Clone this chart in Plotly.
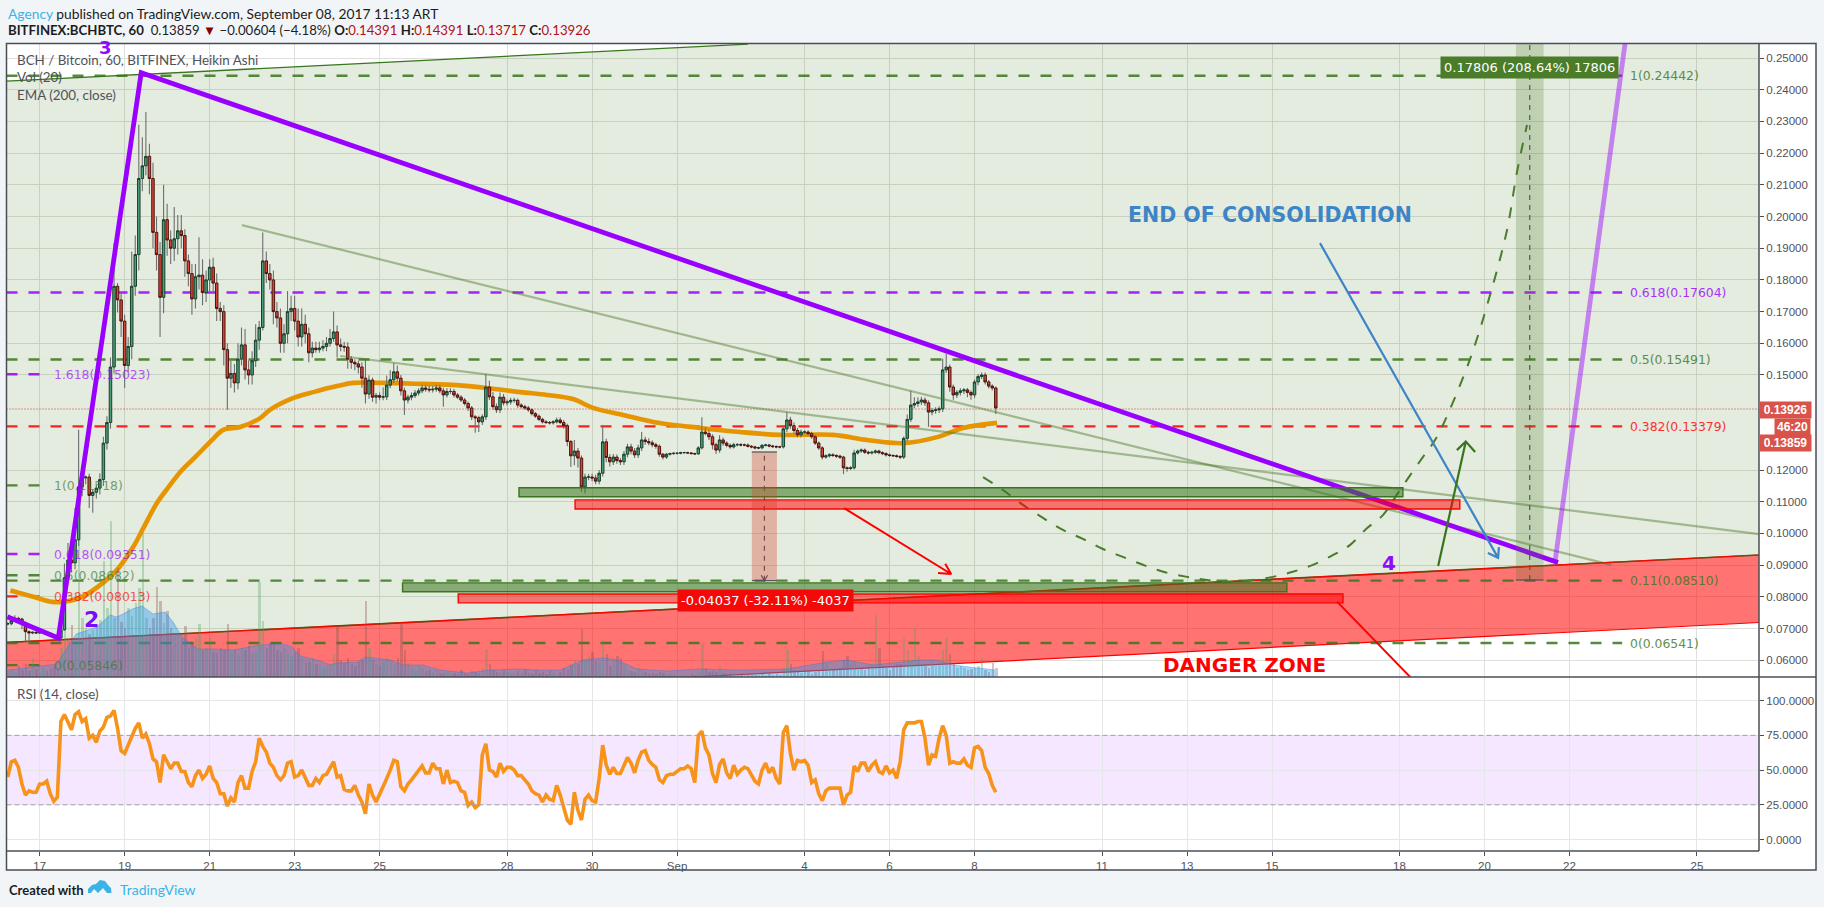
import pandas as pd
import plotly.graph_objects as go

# ---------- values ----------
SEP1 = pd.Timestamp("2017-09-01")
CANDLE_START = "2017-08-16 06:00"

# Heikin Ashi closes, thousandths of BTC, one candle every two hours
CLOSE = [71.5,72.5,73.2,73,71.8,69,68.6,68.8,68.6,68.7,
 68.8,68.5,68,67.5,67,69.6,86,91.6,90.7,98,
 114.7,117.5,117.8,112,113,114.3,117,128.5,135,152.5,
 178,173.7,167,153,159,178,188,212,216,219,
 212,195,188,174.5,199,192.6,190,193,195.5,194,
 186,182,174,181,181.5,176,180,184,179,171,
 170,158,149,150.5,147.5,155,159.5,151.6,150,154.5,
 161,165,186,182,180,170,168,160,163,170,
 171,167,162,166,163,157,158.5,158,158.5,159,
 160,161.5,163.6,159.5,159,158.8,155,154,153.5,152.5,
 149,144,148.4,143,143.5,143,143.1,146.8,148.5,151,
 149,145,142.1,143,143.5,144.3,145,145.9,145.5,145.3,
 145.5,145.9,145,143.7,144.8,144.8,143.7,143,142.1,141,
 139.6,136.8,136.5,135.2,136.8,146.2,143.1,140,139,143,
 141.2,141.5,142,142,140.5,140,139.6,139,137.8,137,
 136,135.2,135,134.9,135.2,135.8,135,134,129,124.5,
 126,123.8,114.7,117.8,117.8,117.5,116.5,119,128.9,124,
 122.6,124.1,123,122.6,125,127.3,126,124.8,127,129.5,
 129,128.6,128,127.5,125,124.1,125,125.2,125.3,125.3,
 125.5,125.5,125.4,125.2,125.1,127,132,131.5,130.5,128,
 126.3,129.5,128.5,127.8,127.3,128,128,127.9,127.9,127.5,
 127.3,127,127,127.8,127.9,127.6,127.4,127.3,127.3,133,
 135.8,134,132.5,131.1,132,132,131.5,130.5,128.5,127,
 124.1,124.5,124.8,124.6,124.4,124.1,120.7,120.5,120.7,125.4,
 126,126.3,125.6,125.4,125.6,126,125.5,125.2,124.8,124.6,
 124.5,124.3,124.1,130,136,140.5,141,141.5,142.1,141.2,
 138.3,138.8,139,139.3,151.6,152.5,146.2,143.7,144.5,145,
 145.3,144.5,143.7,147.8,149.5,150,147.8,146.5,145.9,139.6]

WICK_UP = [.5,.6,1,.5,.4,.4,.4,.3,.3,.3,
 .3,.3,.3,.3,.3,.5,4.5,5.4,6,10,
 18,2.5,.5,1,1,1,2,2,2,3,
 13.6,1,2,2,3,11,6,17,9,14,
 4,5,5,4,11,5,3,10,5,5,
 2,2,3,4,12,5,3,2.5,3,3,
 2,2,2,4,3,5,5.5,5,3,3,
 5,2,9,3,3,3,3,3,3,6.5,
 4,4,4,5,3,2,2,2,2,2,
 2,3,6.4,2,2,1.5,1.5,1,1,1,
 1.5,6,1.5,.8,.8,1,3,3,3,2.8,
 2,1,1,.8,1,1,.8,1,1,1.2,
 1,1,1,1,1,1,.8,.6,.6,.6,
 .6,.6,.6,.6,.8,4.1,2,1.5,1,1.5,
 1,.8,.8,.8,.6,.6,.6,.6,.5,.5,
 .5,.5,.5,.5,.5,.8,.8,.8,.6,.5,
 3.5,1,.8,1,1,1,1,1,5.3,1,
 1,1,.8,.8,1,1,1,1,1,2.5,
 1,1,.8,.6,.6,.4,.4,.3,.3,.3,
 .3,.3,.3,.3,.3,.5,4.7,1.5,1,.8,
 .6,1.5,.8,.6,.6,.6,.5,.5,.5,.5,
 .4,.4,.4,.4,.4,.4,.4,.4,.4,.5,
 2.5,1,1,.8,.8,.6,.6,.6,.6,.5,
 .5,.5,.5,.5,.4,.4,.4,.4,.5,1,
 .5,.5,.5,.5,.5,.5,.4,.4,.4,.4,
 .4,.4,.4,.6,1.5,4.5,2,1.5,1,.8,
 .8,.8,.8,.8,3.5,4.1,.8,.8,.8,.8,
 .6,.6,.6,.8,.8,.8,.8,.6,.6,.5]

WICK_DOWN = [.5,.5,.4,.5,2,3.2,3,.4,.3,.3,
 .3,.3,.3,.3,.3,.3,.3,1,3,2,
 2,3,2,4,5.5,2,2,2,2,2,
 2,4,5,7.1,2,4,3,5,4,3,
 5,5,5,12.5,5,5,5,4,5,4,
 5,4,5,3,4,4,3,4,3,4,
 3,5,10,3,3,2,2,3,3,3,
 2,3,1,3,3,4,3,3,3,3,
 3,3,3,3,3,3,1.5,1,1,1,
 1.5,1,1,4,1.5,1.5,3,2,2,2,
 3,3,1.5,1.5,2,1,1,1,1,1,
 1,1.5,4.7,1,1,.8,.8,.8,.8,.8,
 .8,.8,.8,3.7,.8,.8,.8,.6,.6,.6,
 1,1,4.7,3.2,1,1,1,1,1,1,
 .8,.8,.8,.8,.8,.6,.6,.6,.6,.6,
 .5,.5,.5,.5,.5,.5,.5,1,1.5,3.5,
 3,3,1.6,2,1,1,1,1,1,1.5,
 1.5,1,1,1,1,1,1,1,1,1,
 1,.8,.8,.8,.8,.8,.6,.4,.4,.4,
 .3,.3,.3,.3,.3,.3,.5,.5,1,1.5,
 1.2,.8,.8,.6,.6,.5,.5,.4,.4,.4,
 .4,.4,.4,.4,.4,.4,.4,.4,.4,.5,
 1,1,1,.8,.8,.6,.6,.6,.6,.6,
 .8,.5,.5,.5,.6,.6,2,1,.5,.5,
 .5,.5,.5,.5,.5,.5,.5,.5,.5,.5,
 .4,.4,.6,.6,.8,.8,1,1,1,1,
 4.7,1,1,1,1,1,1.5,1.5,1,1,
 1,1.5,1.5,1,1,.8,.8,.8,.8,1.9]

# Volume, hundreds of BCH
VOLUME = [7,9,6,12,8,14,7,20,9,6,
 10,7,9,12,8,30,63,40,53,35,
 144,60,50,44,48,52,58,117,70,157,
 60,110,56,50,70,62,75,90,145,60,
 50,60,91,77,55,67,50,42,45,40,
 52,30,36,40,54,28,30,40,26,25,
 30,28,54,26,28,24,30,28,32,25,
 26,96,57,30,35,34,28,26,30,24,
 22,26,30,20,15,16,20,14,12,10,
 12,14,24,51,18,15,20,14,12,16,
 18,77,30,18,14,12,16,20,18,14,
 20,55,28,15,10,8,12,10,7,8,
 6,8,5,5,6,4,5,4,8,5,
 4,7,6,5,10,29,14,8,6,5,
 8,6,5,4,7,5,9,5,4,8,
 5,6,4,7,5,4,6,10,9,13,
 18,14,49,18,22,26,17,15,38,24,
 12,18,22,20,14,8,7,6,10,8,
 6,4,5,4,6,5,3,4,3,3,
 3,3,2,4,3,6,35,10,6,7,
 6,12,5,4,5,6,4,3,4,3,
 5,3,3,4,3,4,3,4,3,10,
 28,14,8,7,5,6,7,4,6,8,
 27,16,10,8,9,10,18,22,14,16,
 12,9,8,12,14,63,30,12,10,8,
 12,14,14,40,28,18,50,22,14,12,
 10,16,12,15,28,40,24,14,10,12,
 10,8,9,10,12,20,8,6,15,10]

RSI = [45,56,57,52,40,32,35,34,34,40,
 40,42,33,27.5,30.5,85,90,85,79,90,
 92,85,87,73,75,70,78,81,88,89,
 93,80,64,62,68,73,80,84,73,76,
 69,58,56,41,61,56,51,55,55,49,
 49,41,38,46,50,44,47,53,44,41,
 33,33,24,30,27,41,46,37,37,49,
 56,73,67,63,55,52,46,43,46,55,
 56,45,46,50,44,39,39,44,41,46,
 47,52,56,45,46,36,35,35,39,32,
 27,18.5,40,32,27,32.5,39,44,50,57,
 56,38,35,40,43,46,50,53,48,48,
 55,51,51,40,50,41,42,41,35,34,
 24.5,27,23,25,61,69,50,49,45,55,
 49,52,52,50,46,46,43,40,35,33,
 32,27,32,29,28,39,32,23,14,11,
 34,21,14,29,32,28,27,44,68,53.5,
 47,52,47.5,47.5,54,59,55,48,57,63,
 64,57,54,52,43,41,46,47,47,49,
 51,51,53,51,41,75,78,66,61,47.5,
 41,54,58,48,44,53.5,47,50,52,51,
 46,42,40,50,55,48,52,44,40,77,
 82,62,50,57,56,57,53.5,41,43,33,
 28,35,37,37,37,37,25,32,34,53,
 49,55,55,49,53.5,56,49,47.5,53,48,
 50,44,56,79,84,84,84,85,85,73,
 53.5,61,60,73,82,75,55,56,55,55,
 58,53.5,52,66,67,64,52,47.5,39,34]

# Overlay lines: days from 1 Sep 2017, price
EMA_DAYS = [-15.69,-15.15,-14.71,-14.45,-14.0,-13.51,-13.18,-12.8,-12.56,-12.24,-11.98,-11.65,-11.34,-10.94,-10.68,-10.28,-9.81,-9.58,-9.04,-8.56,-8.0,-7.62,-6.92,-6.05,-5.18,-4.47,-3.69,-3.06,-2.45,-1.98,-1.27,-0.56,.54,1.48,2.42,3.67,4.47,5.32,6.12,6.73,7.53]
EMA_PRICE = [.0820,.0800,.0784,.0784,.0800,.0844,.0885,.0957,.1017,.1096,.1144,.1200,.1241,.1295,.1327,.1336,.1364,.1390,.1427,.1446,.1465,.1475,.1475,.1472,.1468,.1459,.1446,.1437,.1424,.1396,.1374,.1352,.1333,.1320,.1311,.1311,.1295,.1285,.1304,.1333,.1349]

VOLMA_DAYS = [-15.74,-14.59,-14.45,-14.14,-13.65,-13.34,-13.18,-12.82,-12.59,-12.33,-12.05,-11.86,-11.65,-11.29,-10.92,-10.45,-9.81,-9.27,-9.06,-8.87,-8.47,-8.16,-8.0,-7.53,-7.34,-6.75,-6.45,-5.98,-5.58,-4.94,-4.4,-3.76,-3.29,-2.75,-2.21,-1.74,-1.41,-.94,-.24,.54,1.48,2.59,3.53,4.0,4.61,5.72,6.12,6.49,7.48]
VOLMA = [7,13,23,43,50,62,60,68,71,63,65,55,40,28,28,27,32,33,30,21,17,12,14,15,20,17,12,12,7,4,7,8,7,7,17,19,17,8,6,8,7,8,15,17,12,17,17,12,7]

WAVE_DAYS = [-15.76,-14.56,-12.61,20.73]
WAVE_PRICE = [.0737,.0670,.2454,.0908]
WAVE5_DAYS = [20.66,22.35]
WAVE5_PRICE = [.0910,.2588]

TREND_A_DAYS = [-10.24,21.98]
TREND_A_PRICE = [.1973,.0901]
TREND_B_DAYS = [-7.93,25.46]
TREND_B_PRICE = [.156,.0998]

GREEN_CH_DAYS = [-15.78,1.67,25.46,25.46,-15.78]
GREEN_CH_PRICE = [.2427,.2544,.2544,.0932,.0656]
RED_CH_DAYS = [-15.78,25.46,25.46,.353,-15.78]
RED_CH_PRICE = [.0656,.0932,.0719,.0547,.0547]

CURVE_DAYS = [7.2,7.67,8.14,8.61,9.08,9.55,10.02,10.49,10.96,11.44,12.0,12.47,13.08,13.55,14.02,14.49,14.96,15.44,15.84,16.24,16.61,17.01,17.55,17.79,18.0,18.66,19.13,19.53,19.76,20.0]
CURVE_PRICE = [.1178,.1137,.1090,.1049,.1011,.0983,.0951,.0926,.0901,.0879,.0863,.0853,.0847,.0853,.0863,.0879,.0901,.0932,.0964,.1017,.1058,.1137,.1241,.1285,.1336,.1550,.1752,.1957,.2137,.2289]

ARROWS = [
 ("#3d85c6",2.2,[15.13,19.32,19.08,19.32,19.34],[.1916,.0923,.0938,.0923,.0957]),
 ("#38761d",2.2,[17.91,18.56,18.35,18.56,18.78],[.0897,.1290,.1263,.1290,.1257]),
 ("#ff0000",2,[3.93,6.45,6.31,6.45,6.14],[.1080,.0872,.0904,.0872,.0875]),
 ("#ff0000",2,[15.53,17.36],[.0785,.0532]),
 ("#50505a",1.2,[1.98,2.055,2.13],[.0868,.0851,.0868]),
]

ZONES = [  # day0, day1, price low, price high, fill, border
 (-3.72,17.08,.1116,.1144,"rgba(56,118,29,0.55)","#38761d"),
 (-2.40,18.42,.1077,.1106,"rgba(255,0,0,0.5)","#ff0000"),
 (-6.46,14.35,.0816,.0844,"rgba(56,118,29,0.55)","#38761d"),
 (-5.15,15.67,.0781,.0809,"rgba(255,0,0,0.5)","#ff0000"),
]
MEASURES = [
 (19.74,20.39,.0853,.2588,"rgba(75,120,40,0.24)"),
 (1.76,2.35,.0851,.1257,"rgba(215,60,40,0.32)"),
]

FIB_RIGHT = [("1(0.24442)",.24442,"#38761d"),("0.618(0.17604)",.17604,"#9900ff"),("0.5(0.15491)",.15491,"#38761d"),
             ("0.382(0.13379)",.13379,"#ff0000"),("0.11(0.08510)",.08510,"#38761d"),("0(0.06541)",.06541,"#38761d")]
FIB_LEFT = [("1.618(0.15023)",.15023,"#9900ff"),("1(0.11518)",.11518,"#38761d"),("0.618(0.09351)",.09351,"#9900ff"),
            ("0.5(0.08682)",.08682,"#38761d"),("0.382(0.08013)",.08013,"#ff0000"),("0(0.05846)",.05846,"#38761d")]
LAST_CLOSE = 0.13926

PRICE_TICKS = [.06,.07,.08,.09,.10,.11,.12,.15,.16,.17,.18,.19,.20,.21,.22,.23,.24,.25]
RSI_TICKS = [0,25,50,75,100]
TIME_TICKS = ["2017-08-17","2017-08-19","2017-08-21","2017-08-23","2017-08-25","2017-08-28","2017-08-30","2017-09-01","2017-09-04","2017-09-06","2017-09-08","2017-09-11","2017-09-13","2017-09-15","2017-09-18","2017-09-20","2017-09-22","2017-09-25"]
TIME_LABELS = ["17","19","21","23","25","28","30","Sep","4","6","8","11","13","15","18","20","22","25"]

assert all(len(a)==280 for a in (CLOSE,WICK_UP,WICK_DOWN,VOLUME,RSI)), [len(a) for a in (CLOSE,WICK_UP,WICK_DOWN,VOLUME,RSI)]

# ---------- helpers ----------
W, H = 1824, 907
PX = lambda x: x / W
PY = lambda y: (H - y) / H
def day(t): return str(SEP1 + pd.Timedelta(days=t))
def days(ts): return [day(t) for t in ts]

dates = pd.date_range(CANDLE_START, periods=len(CLOSE), freq="2h")
close = [c / 1000 for c in CLOSE]
opens = [close[0]] + close[:-1]
body_hi = [max(o, c) for o, c in zip(opens, close)]
body_lo = [min(o, c) for o, c in zip(opens, close)]
wx, wy = [], []
for d, a, b, u, l in zip(dates, body_hi, body_lo, WICK_UP, WICK_DOWN):
    wx += [d, d, None]
    wy += [a + u / 1000, b - l / 1000, None]

GRID = "#dfe0dc"
FRAME = "#4a4e54"
TXT = "#4f5358"
SANS = "Liberation Sans"
CLOSEFONT = "Lato"
WIDE = "DejaVu Sans"

fig = go.Figure()
def line(x, y, color, width, dash=None, ya="y", shape="linear", **kw):
    fig.add_trace(go.Scatter(x=x, y=y, mode="lines", yaxis=ya, hoverinfo="skip", showlegend=False,
                             line=dict(color=color, width=width, dash=dash, shape=shape), **kw))

# channels
line(days(GREEN_CH_DAYS), GREEN_CH_PRICE, "rgba(0,0,0,0)", 0, fill="toself", fillcolor="rgba(75,120,40,0.15)")
line(days(RED_CH_DAYS), RED_CH_PRICE, "rgba(0,0,0,0)", 0, fill="toself", fillcolor="rgba(255,0,0,0.55)")
line(days(GREEN_CH_DAYS[:2]), GREEN_CH_PRICE[:2], "#38761d", 1.3)
line(days([GREEN_CH_DAYS[-1], GREEN_CH_DAYS[2]]), [GREEN_CH_PRICE[-1], GREEN_CH_PRICE[3]], "#38761d", 1.6)
line(days(RED_CH_DAYS[:2]), RED_CH_PRICE[:2], "#ff0000", 1.2)
line(days(RED_CH_DAYS[2:4]), RED_CH_PRICE[2:4], "#ff0000", 1.2)

# fib levels
for _, v, c in FIB_RIGHT:
    line(days([-15.78, 22.24]), [v, v], c, 2.4, "11px,11px", opacity=0.85)
for _, v, c in FIB_LEFT:
    line(days([-15.78, -14.99]), [v, v], c, 2.4, "11px,11px", opacity=0.85)
line(days([-15.78, 25.46]), [LAST_CLOSE, LAST_CLOSE], "#d0332a", 1, "1px,2px")

# EMA and wicks
line(days(EMA_DAYS), EMA_PRICE, "#e69500", 4.6, shape="spline")
fig.add_trace(go.Scatter(x=wx, y=wy, mode="lines", hoverinfo="skip", showlegend=False,
                         line=dict(color="#6e6e6e", width=1.1)))

# volume
fig.add_trace(go.Scatter(x=days(VOLMA_DAYS), y=VOLMA, yaxis="y3", mode="lines", hoverinfo="skip", showlegend=False,
                         line=dict(color="rgba(33,120,220,0.35)", width=1), fill="tozeroy", fillcolor="rgba(33,150,243,0.4)"))
fig.add_trace(go.Bar(x=dates, y=VOLUME, yaxis="y3", hoverinfo="skip", showlegend=False, width=5000000,
                     marker=dict(line_width=0, color=["rgba(80,160,95,0.32)" if c >= o else "rgba(140,85,80,0.36)"
                                                      for o, c in zip(opens, close)])))

# candle bodies
fig.add_trace(go.Candlestick(x=dates, open=opens, high=body_hi, low=body_lo, close=close, yaxis="y4",
                             hoverinfo="skip", showlegend=False, whiskerwidth=0,
                             increasing=dict(fillcolor="#4f9c78", line=dict(color="#16402b", width=1)),
                             decreasing=dict(fillcolor="#d5463a", line=dict(color="#4d130c", width=1))))

# drawn lines
line(days(TREND_A_DAYS), TREND_A_PRICE, "rgba(75,120,40,0.45)", 2.2, ya="y5")
line(days(TREND_B_DAYS), TREND_B_PRICE, "rgba(75,120,40,0.45)", 2.2, ya="y5")
line(days(CURVE_DAYS), CURVE_PRICE, "#4a7c2a", 2, "11px,11px", ya="y5", shape="spline")
line(days(WAVE_DAYS), WAVE_PRICE, "#9900ff", 4.8, ya="y5")
line(days(WAVE5_DAYS), WAVE5_PRICE, "rgba(153,0,255,0.45)", 4.8, ya="y5")
for c, w, xs, ys in ARROWS:
    line(days(xs), ys, c, w, ya="y5")
for d0, d1, p0, p1, _ in MEASURES:
    mid = (d0 + d1) / 2
    line(days([mid, mid]), [p0, p1], "#50505a", 1.2, "5px,5px", ya="y5")

# RSI pane
line(dates, RSI, "#f7931a", 3.6, ya="y2", xaxis="x2")

# ---------- shapes ----------
shapes = [
    dict(type="rect", xref="paper", yref="paper", x0=PX(6.5), x1=PX(1816), y0=PY(870), y1=PY(43.5),
         fillcolor="white", line_width=0, layer="below"),
    dict(type="rect", xref="x", yref="y2", x0=day(-15.78), x1=day(25.46), y0=25, y1=75,
         fillcolor="rgba(153,21,255,0.1)", line_width=0, layer="below"),
    dict(type="line", xref="x", yref="y2", x0=day(-15.78), x1=day(25.46), y0=25, y1=25, line=dict(color="#a79fb0", width=1, dash="5px,3px")),
    dict(type="line", xref="x", yref="y2", x0=day(-15.78), x1=day(25.46), y0=75, y1=75, line=dict(color="#a79fb0", width=1, dash="5px,3px")),
]
for d0, d1, p0, p1, fill, edge in ZONES:
    shapes.append(dict(type="rect", xref="x", yref="y", x0=day(d0), x1=day(d1), y0=p0, y1=p1,
                       fillcolor=fill, line=dict(color=edge, width=1.4)))
for d0, d1, p0, p1, fill in MEASURES:
    shapes.append(dict(type="rect", xref="x", yref="y", x0=day(d0), x1=day(d1), y0=p0, y1=p1, fillcolor=fill, line_width=0))
    shapes.append(dict(type="line", xref="x", yref="y", x0=day(d0), x1=day(d1), y0=p0, y1=p0, line=dict(color="#50505a", width=1.2)))
shapes.append(dict(type="line", xref="x", yref="y", x0=day(1.76), x1=day(2.35), y0=.1257, y1=.1257, line=dict(color="#50505a", width=1.2)))
# pane frame
shapes += [
    dict(type="rect", xref="paper", yref="paper", x0=PX(6.5), x1=PX(1816), y0=PY(870), y1=PY(43.5), line=dict(color=FRAME, width=1.5)),
    dict(type="line", xref="paper", yref="paper", x0=PX(1759), x1=PX(1759), y0=PY(851), y1=PY(43.5), line=dict(color=FRAME, width=1.5)),
    dict(type="line", xref="paper", yref="paper", x0=PX(6.5), x1=PX(1816), y0=PY(677), y1=PY(677), line=dict(color=FRAME, width=1.5)),
    dict(type="line", xref="paper", yref="paper", x0=PX(6.5), x1=PX(1759), y0=PY(851), y1=PY(851), line=dict(color=FRAME, width=1.5)),
]
# TradingView cloud mark
pts = [(88,893),(88,889),(92,885),(96,884),(100,880),(105,881),(108,885),(111,888),(111.5,893),(107,893),(103,888),(98,893),(94,889),(91,893)]
logo = "M " + " L ".join(f"{PX(x):.5f},{PY(y):.5f}" for x, y in pts) + " Z"
shapes.append(dict(type="path", xref="paper", yref="paper", path=logo, fillcolor="#3bb3e4", line_width=0))

# ---------- text ----------
ann = []
def note(text, x, y, size=12, color=TXT, font=SANS, anchor="left", **kw):
    ann.append(dict(text=text, x=PX(x), y=PY(y), xref="paper", yref="paper", xanchor=anchor, yanchor="middle",
                    showarrow=False, font=dict(size=size, color=color, family=font), **kw))
def tag(text, x, y, size=12, color=TXT, font=SANS, anchor="center", **kw):
    ann.append(dict(text=text, x=day(x), y=y, xref="x", yref="y", xanchor=anchor, yanchor="middle",
                    showarrow=False, font=dict(size=size, color=color, family=font), **kw))

note('<span style="color:#3bb3e4">Agency</span> published on TradingView.com, September 08, 2017 11:13 ART', 6, 13.5, 13.8, "#1c1c1c", CLOSEFONT)
R = 'style="color:#b40f0f"'
note(f'<b>BITFINEX:BCHBTC, 60</b>  0.13859 <span style="color:#8b0000">▼</span> −0.00604 (−4.18%) <b>O:</b><span {R}>0.14391</span> <b>H:</b><span {R}>0.14391</span> <b>L:</b><span {R}>0.13717</span> <b>C:</b><span {R}>0.13926</span>',
     6, 30, 13.2, "#1c1c1c", CLOSEFONT)
note("BCH / Bitcoin, 60, BITFINEX, Heikin Ashi", 15, 60.5, 13.4, TXT, CLOSEFONT)
note("Vol (20)", 15, 77.5, 13.4, TXT, CLOSEFONT)
note("EMA (200, close)", 15, 94.5, 13.4, TXT, CLOSEFONT)
note("RSI (14, close)", 15, 694, 13.4, TXT, CLOSEFONT)
note("<b>Created with</b>", 6.5, 889.5, 13, "#1c1c1c", CLOSEFONT)
note("TradingView", 118, 889.5, 14, "#3bb3e4", CLOSEFONT)

for label, v, c in FIB_RIGHT:
    tag(label, 22.38, v, 12.4, c, WIDE, "left", opacity=0.8)
for label, v, c in FIB_LEFT:
    tag(label, -14.70, v, 12.4, c, WIDE, "left", opacity=0.65)

tag("<b>3</b>", -13.44, .2532, 18, "#8e0bfb", WIDE)
tag("<b>2</b>", -13.79, .0727, 22, "#7a0bfb", WIDE)
tag("<b>4</b>", 16.75, .0906, 20, "#8e0bfb", WIDE)
tag("<b>END OF CONSOLIDATION</b>", 13.95, .2005, 20.5, "#3d85c6", WIDE)
tag("<b>DANGER ZONE</b>", 13.36, .0585, 20, "#ff0000", WIDE)

tag("0.17806 (208.64%) 17806", 20.07, .2470, 13, "white", WIDE, bgcolor="#4a7c2a", borderpad=3)
tag("-0.04037 (-32.11%) -4037", 2.07, .0789, 13, "white", WIDE, bgcolor="#f50808", borderpad=3)

note("<b>0.13926</b>", 1785, 410, 12, "white", SANS, "center", bgcolor="#d9534a", width=51, height=16, borderpad=0)
note("<b>46:20</b>", 1792.5, 427, 12, "white", SANS, "center", bgcolor="#d9534a", width=35, height=16, borderpad=0)
note("<b>0.13859</b>", 1785, 443, 12, "white", SANS, "center", bgcolor="#d9534a", width=51, height=16, borderpad=0)

# ---------- layout ----------
xdom = [PX(6.5), PX(1759)]
xrange = [day(-15.78), day(25.46)]
pmin, pmax = .0547, .2546
tick_font = dict(size=11.5, color=TXT, family=SANS)
layout = dict(
    width=W, height=H, margin=dict(l=0, r=0, t=0, b=0), autosize=False,
    paper_bgcolor="#f1f5f8", plot_bgcolor="rgba(0,0,0,0)", showlegend=False, bargap=0, boxgap=0,
    shapes=shapes, annotations=ann,
    xaxis=dict(domain=xdom, range=xrange, type="date", anchor="y", tickmode="array", tickvals=TIME_TICKS,
               ticktext=TIME_LABELS, showticklabels=False, ticks="", showgrid=True, gridcolor=GRID, gridwidth=1.3,
               zeroline=False, showline=False, rangeslider=dict(visible=False)),
    xaxis2=dict(domain=xdom, range=xrange, type="date", anchor="y2", tickmode="array", tickvals=TIME_TICKS,
                ticktext=TIME_LABELS, tickfont=tick_font, ticks="outside", ticklen=4, tickcolor=FRAME,
                showgrid=True, gridcolor="#e6e6e6", gridwidth=1.3, zeroline=False, showline=False, tickangle=0,
                rangeslider=dict(visible=False)),
    yaxis=dict(domain=[PY(677), PY(43.5)], range=[pmin, pmax], side="right", anchor="x", tickmode="array",
               tickvals=PRICE_TICKS, tickformat=".5f", tickfont=tick_font, ticks="outside", ticklen=4, tickcolor=FRAME,
               showgrid=True, gridcolor=GRID, gridwidth=1.3, zeroline=False, showline=False),
    yaxis2=dict(domain=[PY(851), PY(677.5)], range=[-8.3, 116.7], side="right", anchor="x2", tickmode="array",
                tickvals=RSI_TICKS, tickformat=".4f", tickfont=tick_font, ticks="outside", ticklen=4, tickcolor=FRAME,
                showgrid=True, gridcolor="#e6e6e6", gridwidth=1.3, zeroline=False, showline=False),
    yaxis3=dict(overlaying="y", range=[0, 633.5], visible=False, anchor="x"),
    yaxis4=dict(overlaying="y", range=[pmin, pmax], visible=False, anchor="x"),
    yaxis5=dict(overlaying="y", range=[pmin, pmax], visible=False, anchor="x"),
)
fig.update_layout(**layout)
fig.write_html("out.html", config=dict(displayModeBar=False),
               post_script="document.body.style.margin='0';document.documentElement.style.background='#f1f5f8';")
